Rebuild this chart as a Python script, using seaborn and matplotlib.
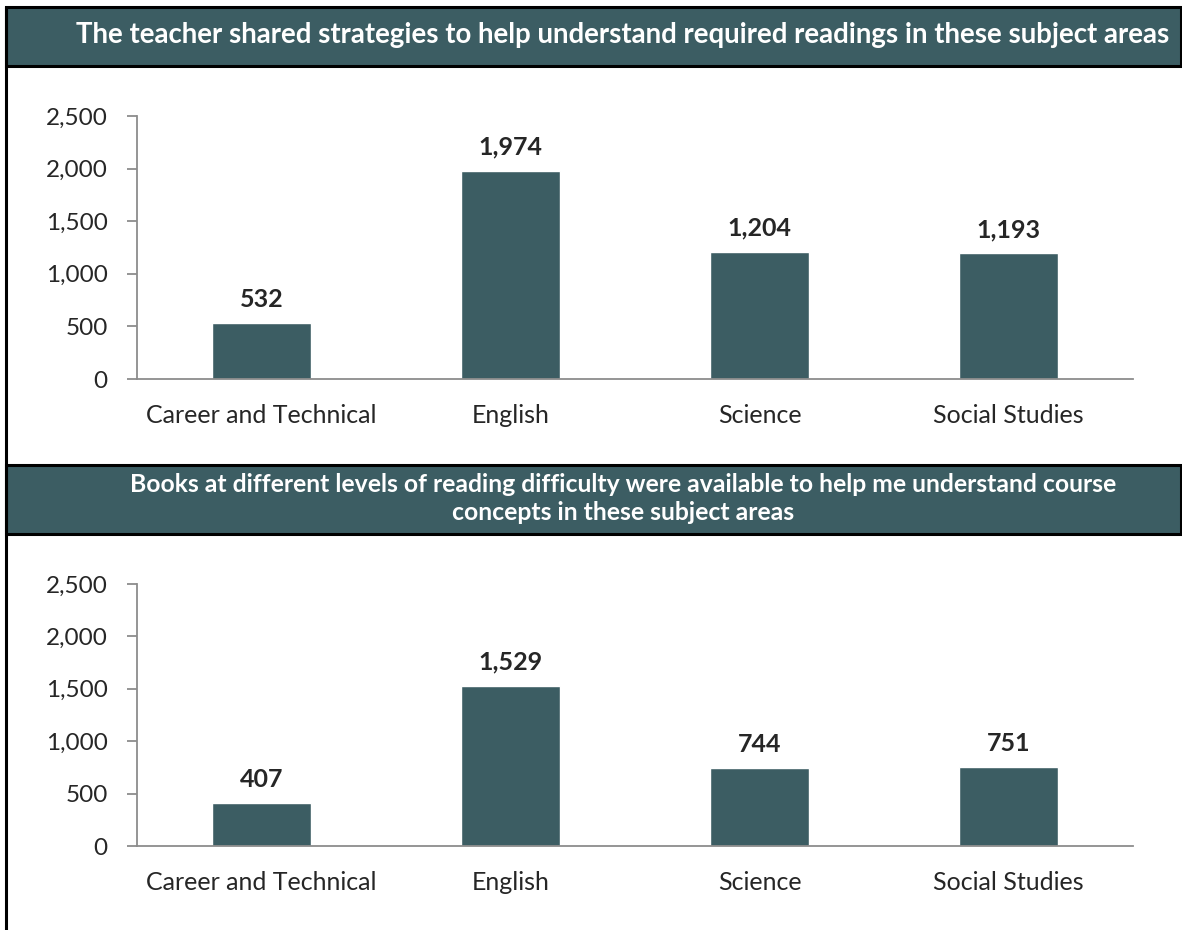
import matplotlib.pyplot as plt
import seaborn as sns
import pandas as pd
from matplotlib.patches import Rectangle
from matplotlib.lines import Line2D
from matplotlib.ticker import FuncFormatter, FixedLocator

# Survey counts by subject area
subjects = ["Career and Technical", "English", "Science", "Social Studies"]
shared_strategies = [532, 1974, 1204, 1193]
books_levels = [407, 1529, 744, 751]

titles = [
    "The teacher shared strategies to help understand required readings in these subject areas",
    "Books at different levels of reading difficulty were available to help me understand course\nconcepts in these subject areas",
]
title_sizes = [19.9, 17.8]

teal = "#3C5D63"
grey = "#8C8C8C"

sns.set_style("white")
plt.rcParams["font.family"] = ["Lato", "DejaVu Sans"]

fig = plt.figure(figsize=(11.82, 9.3), dpi=100)
W, H = 1182, 930

def fx(px):
    return px / W

def fy(py):
    return 1 - py / H

# header bands (pixel coords: top, bottom)
headers = [(7, 66), (465, 534)]
for (top, bot), title, size in zip(headers, titles, title_sizes):
    fig.patches.append(Rectangle((fx(6), fy(bot)), fx(1181 - 6), (bot - top) / H,
                                 transform=fig.transFigure, facecolor=teal,
                                 edgecolor="black", linewidth=2.2, zorder=0))
    fig.text(fx(623), fy((top + bot) / 2 - 1), title, color="white", fontsize=size,
             fontweight="bold", ha="center", va="center", linespacing=1.25)

# left frame line
fig.add_artist(Line2D([fx(6), fx(6)], [fy(7), 0], transform=fig.transFigure,
                      color="black", linewidth=2.2))

# axes positions (pixel coords: y of 2500, y of 0)
axes_px = [(116, 379), (584, 846)]
datasets = [shared_strategies, books_levels]

for (top, bot), values in zip(axes_px, datasets):
    ax = fig.add_axes([fx(137), fy(bot), fx(1133 - 137), (bot - top) / H])
    df = pd.DataFrame({"Subject": subjects, "Count": values})
    sns.barplot(data=df, x="Subject", y="Count", color=teal, width=0.4,
                saturation=1, ax=ax)
    ax.set_xlim(-0.5, len(subjects) - 0.5)
    ax.set_ylim(0, 2500)
    ax.set_yticks(range(0, 2501, 500))
    ax.yaxis.set_major_formatter(FuncFormatter(lambda v, p: f"{int(v):,}"))
    ax.set_xlabel("")
    ax.set_ylabel("")
    for side in ["top", "right"]:
        ax.spines[side].set_visible(False)
    for side in ["left", "bottom"]:
        ax.spines[side].set_color(grey)
        ax.spines[side].set_linewidth(1.3)
    ax.xaxis.set_minor_locator(FixedLocator([i - 0.5 for i in range(len(subjects) + 1)]))
    ax.tick_params(axis="x", which="major", length=0, pad=18, labelsize=18)
    ax.tick_params(axis="x", which="minor", length=7, width=1.3, color=grey, direction="out")
    ax.tick_params(axis="y", length=7, width=1.3, color=grey, direction="out",
                   left=True, pad=14, labelsize=17.5)
    ax.bar_label(ax.containers[0], labels=[f"{v:,}" for v in values],
                 padding=9, fontsize=18, fontweight="bold")

fig.savefig("out.png", dpi=100)
